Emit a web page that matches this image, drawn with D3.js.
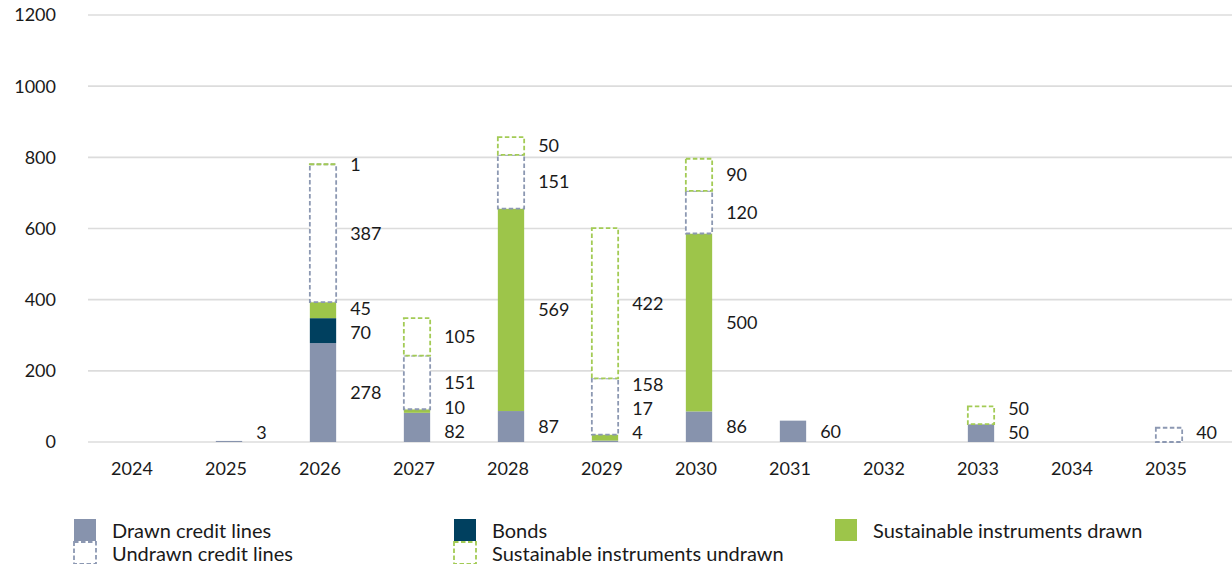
<!DOCTYPE html>
<html>
<head>
<meta charset="utf-8">
<script src="https://cdn.jsdelivr.net/npm/d3@7"></script>
<style>
  body { margin: 0; background: #fff; }
  text { font-family: Lato, "Open Sans", sans-serif; fill: #1a1a1a; }
</style>
</head>
<body>
<div id="vis"></div>
<script>

// Data ----------------------------------------------------------------------

var years = ["2024", "2025", "2026", "2027", "2028", "2029", "2030", "2031", "2032", "2033", "2034", "2035"];

var drawnCredit   = [0, 3, 278, 82,  87,   4,  86, 60, 0, 50, 0,  0];
var bonds         = [0, 0,  70,  0,   0,   0,   0,  0, 0,  0, 0,  0];
var sustDrawn     = [0, 0,  45, 10, 569,  17, 500,  0, 0,  0, 0,  0];
var undrawnCredit = [0, 0, 387, 151, 151, 158, 120, 0, 0,  0, 0, 40];
var sustUndrawn   = [0, 0,   1, 105,  50, 422,  90, 0, 0, 50, 0,  0];

var yTicks = [0, 200, 400, 600, 800, 1000, 1200];

var seriesNames = ["Drawn credit lines", "Bonds", "Sustainable instruments drawn",
                   "Undrawn credit lines", "Sustainable instruments undrawn"];


// Setup ---------------------------------------------------------------------

var width = 1232, height = 564;

var keys = ["drawn", "bonds", "sustDrawn", "undrawn", "sustUndrawn"];
var styles = {
  drawn:       {fill: "#8793ad", dashed: false},
  bonds:       {fill: "#00405f", dashed: false},
  sustDrawn:   {fill: "#9dc54a", dashed: false},
  undrawn:     {stroke: "#8c98b2", dashed: true},
  sustUndrawn: {stroke: "#a3cb55", dashed: true}
};

var table = years.map(function(y, i) {
  return {
    year: y,
    drawn: drawnCredit[i],
    bonds: bonds[i],
    sustDrawn: sustDrawn[i],
    undrawn: undrawnCredit[i],
    sustUndrawn: sustUndrawn[i]
  };
});

var stacked = d3.stack().keys(keys)(table);

var x = d3.scaleBand()
  .domain(years)
  .range([88, 1216])
  .paddingInner(0.72)
  .paddingOuter(0.36);

var y = d3.scaleLinear()
  .domain([0, 1200])
  .range([442, 15]);

var svg = d3.select("#vis").append("svg")
  .attr("width", width)
  .attr("height", height);


// Grid and axes -------------------------------------------------------------

svg.append("g")
  .selectAll("line")
  .data(yTicks)
  .enter().append("line")
    .attr("x1", 88)
    .attr("x2", width)
    .attr("y1", function(d) { return y(d); })
    .attr("y2", function(d) { return y(d); })
    .attr("stroke", "#dcdcdc")
    .attr("stroke-width", 1.6);

svg.append("g")
  .selectAll("text")
  .data(yTicks)
  .enter().append("text")
    .attr("x", 56)
    .attr("y", function(d) { return y(d); })
    .attr("dy", "0.36em")
    .attr("text-anchor", "end")
    .style("font-size", "18px")
    .text(function(d) { return d; });

svg.append("g")
  .selectAll("text")
  .data(years)
  .enter().append("text")
    .attr("x", function(d) { return x(d) + x.bandwidth() / 2 - 3; })
    .attr("y", 469)
    .attr("dy", "0.36em")
    .attr("text-anchor", "middle")
    .style("font-size", "18px")
    .text(function(d) { return d; });


// Bars ----------------------------------------------------------------------

stacked.forEach(function(layer) {
  var st = styles[layer.key];
  var g = svg.append("g").attr("class", "layer-" + layer.key);
  var segs = g.selectAll("rect")
    .data(layer.filter(function(d) { return d[1] - d[0] > 0; }))
    .enter().append("rect")
      .attr("x", function(d) { return x(d.data.year); })
      .attr("width", x.bandwidth())
      .attr("y", function(d) { return y(d[1]); })
      .attr("height", function(d) { return y(d[0]) - y(d[1]); });
  if (st.dashed) {
    segs.attr("fill", "#fff")
      .attr("stroke", st.stroke)
      .attr("stroke-width", 1.8)
      .attr("stroke-dasharray", "4.5,2.5");
  } else {
    segs.attr("fill", st.fill);
  }
});


// Value labels --------------------------------------------------------------

var minGap = 24, maxY = 433;

years.forEach(function(yr, i) {
  var items = [];
  stacked.forEach(function(layer) {
    var d = layer[i];
    var v = d[1] - d[0];
    if (v > 0) items.push({v: v, y: (y(d[0]) + y(d[1])) / 2});
  });
  if (!items.length) return;

  // push overlapping labels apart
  for (var it = 0; it < 60; it++) {
    items[0].y = Math.min(items[0].y, maxY);
    for (var k = 1; k < items.length; k++) {
      var gap = items[k - 1].y - items[k].y;
      if (gap < minGap) {
        var s = (minGap - gap) / 2;
        items[k - 1].y += s;
        items[k].y -= s;
      }
    }
  }
  items[0].y = Math.min(items[0].y, maxY);

  svg.append("g")
    .selectAll("text")
    .data(items)
    .enter().append("text")
      .attr("x", x(yr) + x.bandwidth() + 14)
      .attr("y", function(d) { return d.y; })
      .attr("dy", "0.36em")
      .style("font-size", "18px")
      .text(function(d) { return d.v; });
});


// Legend --------------------------------------------------------------------

var legendCols = [74, 454, 835];
var legendRows = [519, 542];
var legendPos = [[0, 0], [1, 0], [2, 0], [0, 1], [1, 1]];

var legend = svg.append("g").attr("class", "legend");

keys.forEach(function(k, i) {
  var st = styles[k];
  var lx = legendCols[legendPos[i][0]];
  var ly = legendRows[legendPos[i][1]];
  var r = legend.append("rect")
    .attr("x", lx)
    .attr("y", ly)
    .attr("width", 22)
    .attr("height", 22);
  if (st.dashed) {
    r.attr("fill", "#fff")
      .attr("stroke", st.stroke)
      .attr("stroke-width", 1.8)
      .attr("stroke-dasharray", "4.5,2.5");
  } else {
    r.attr("fill", st.fill);
  }
  legend.append("text")
    .attr("x", lx + 38)
    .attr("y", ly + 12)
    .attr("dy", "0.36em")
    .style("font-size", "20px")
    .text(seriesNames[i]);
});

</script>
</body>
</html>
